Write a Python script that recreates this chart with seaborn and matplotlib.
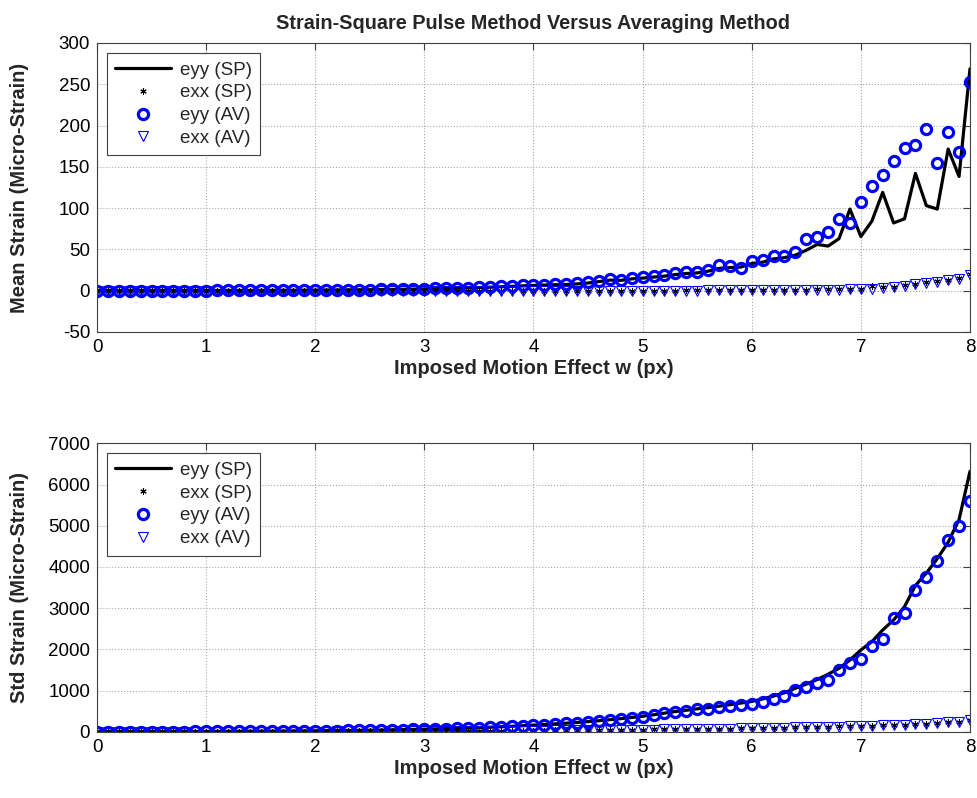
## Strain-square pulse method versus averaging method
## Mean and std strain against imposed motion effect

import numpy as np
import pandas as pd
import matplotlib
matplotlib.use("Agg")
import matplotlib.pyplot as plt
import seaborn as sns

##########################################################################
## 1. Data
##########################################################################

w_px = np.arange(0, 81) / 10.0  # sample grid 0.0 ... 8.0 px

mean_eyy_sp = [
    0.0, 0.0, 0.0, 0.0, 0.1, 0.1, 0.1, 0.1, 0.1, 0.2,
    0.2, 0.2, 0.3, 0.3, 0.3, 0.4, 0.4, 0.5, 0.5, 0.6,
    0.7, 0.8, 0.9, 1.0, 1.1, 1.2, 1.4, 1.5, 1.7, 1.9,
    2.2, 2.4, 2.7, 3.0, 3.4, 3.8, 4.2, 4.7, 5.2, 5.8,
    6.4, 6.8, 7.2, 7.5, 8.2, 9.3, 11.0, 12.8, 12.5, 14.3,
    15.2, 16.5, 17.6, 19.5, 20.8, 21.5, 23.6, 27.0, 28.0, 28.6,
    33.0, 34.5, 38.5, 40.0, 43.0, 49.0, 56.0, 54.0, 63.0, 98.8,
    65.5, 84.0, 119.0, 82.0, 87.0, 142.0, 103.0, 98.8, 171.5, 138.3,
    268.6,
]
mean_exx_sp = [
    0.0, 0.0, 0.0, 0.0, 0.0, 0.0, 0.0, 0.0, 0.0, 0.0,
    0.0, 0.0, 0.0, 0.0, 0.0, 0.0, 0.0, 0.0, 0.0, 0.0,
    0.0, 0.0, 0.0, 0.0, 0.0, 0.0, 0.0, 0.0, 0.0, 0.0,
    0.0, 0.0, 0.0, 0.0, 0.0, 0.0, 0.0, 0.0, 0.1, 0.1,
    0.1, 0.1, 0.1, 0.1, 0.1, 0.1, 0.1, 0.1, 0.1, 0.1,
    0.1, 0.1, 0.2, 0.2, 0.3, 0.3, 0.4, 0.4, 0.5, 0.6,
    0.7, 0.8, 0.9, 1.0, 1.2, 1.3, 1.5, 1.7, 2.0, 2.2,
    2.5, 5.5, 4.5, 5.0, 6.5, 8.5, 10.0, 11.5, 13.5, 15.5,
    20.5,
]
mean_eyy_av = [
    0.0, 0.0, 0.0, 0.0, 0.1, 0.1, 0.1, 0.1, 0.2, 0.2,
    0.2, 0.3, 0.3, 0.3, 0.4, 0.4, 0.5, 0.5, 0.6, 0.7,
    0.8, 0.9, 1.0, 1.1, 1.2, 1.4, 1.5, 1.7, 1.9, 2.1,
    2.4, 2.7, 3.0, 3.3, 3.7, 4.1, 4.6, 5.1, 5.7, 6.3,
    7.0, 7.4, 7.8, 8.1, 8.9, 10.1, 12.1, 14.2, 13.3, 15.4,
    16.2, 17.8, 18.6, 21.0, 22.2, 22.2, 25.1, 31.1, 29.9, 27.9,
    36.0, 37.2, 42.1, 42.1, 47.3, 62.3, 65.5, 71.2, 86.6, 81.7,
    106.8, 127.0, 140.4, 157.4, 172.3, 176.0, 196.2, 154.9, 192.5, 168.3,
    252.8,
]
mean_exx_av = [
    0.0, 0.0, 0.0, 0.0, 0.0, 0.0, 0.0, 0.0, 0.0, 0.0,
    0.0, 0.0, 0.0, 0.0, 0.0, 0.0, 0.0, 0.0, 0.0, 0.0,
    0.0, 0.0, 0.0, 0.0, 0.0, 0.0, 0.0, 0.0, 0.0, 0.0,
    0.0, 0.0, 0.0, 0.0, 0.0, 0.0, 0.0, 0.0, 0.0, 0.0,
    0.0, 0.0, 0.0, 0.0, 0.0, 0.0, 0.0, 0.0, 0.1, 0.1,
    0.1, 0.1, 0.1, 0.1, 0.2, 0.2, 0.3, 0.3, 0.4, 0.5,
    0.6, 0.7, 0.8, 0.9, 1.0, 1.1, 1.2, 1.3, 1.4, 1.5,
    1.5, 2.5, 3.5, 4.5, 5.5, 7.5, 9.0, 10.5, 12.5, 14.5,
    19.5,
]

std_eyy_sp = [
    5, 6, 6, 7, 7, 8, 8, 9, 10, 11,
    12, 13, 14, 15, 16, 18, 19, 21, 23, 25,
    27, 29, 32, 35, 38, 41, 45, 50, 55, 61,
    68, 74, 80, 87, 95, 104, 114, 125, 137, 150,
    165, 180, 196, 212, 230, 250, 272, 296, 322, 350,
    380, 415, 455, 495, 525, 560, 590, 625, 660, 700,
    740, 800, 870, 950, 1060, 1160, 1270, 1400, 1542, 1744,
    1986, 2188, 2471, 2714, 3037, 3550, 3850, 4200, 4600, 5150,
    6320,
]
std_exx_sp = [
    2, 2, 2, 3, 3, 3, 3, 4, 4, 4,
    5, 5, 5, 6, 6, 7, 7, 8, 8, 9,
    9, 10, 11, 11, 12, 13, 14, 15, 16, 17,
    18, 19, 20, 22, 23, 24, 26, 27, 29, 31,
    32, 34, 36, 38, 40, 42, 45, 47, 50, 53,
    56, 59, 62, 65, 68, 71, 75, 78, 82, 86,
    90, 94, 99, 104, 109, 114, 120, 126, 132, 139,
    146, 154, 162, 171, 180, 190, 201, 214, 230, 250,
    290,
]
std_eyy_av = [
    5, 6, 6, 7, 7, 8, 8, 9, 10, 11,
    12, 13, 14, 15, 16, 18, 19, 21, 23, 25,
    27, 29, 32, 35, 38, 41, 45, 50, 55, 61,
    68, 74, 80, 87, 95, 104, 114, 125, 137, 150,
    165, 180, 196, 210, 227, 245, 265, 290, 315, 340,
    369, 410, 451, 490, 507, 548, 555, 596, 628, 652,
    677, 725, 791, 871, 1016, 1096, 1179, 1259, 1493, 1664,
    1776, 2083, 2245, 2755, 2876, 3430, 3749, 4135, 4654, 4994,
    5600,
]
std_exx_av = [
    2, 2, 2, 3, 3, 3, 3, 4, 4, 4,
    5, 5, 5, 6, 6, 7, 7, 8, 8, 9,
    9, 10, 11, 11, 12, 13, 14, 15, 16, 17,
    18, 19, 20, 21, 23, 24, 25, 27, 29, 30,
    32, 34, 36, 37, 39, 42, 44, 47, 49, 52,
    55, 58, 61, 64, 67, 70, 74, 77, 81, 85,
    89, 93, 98, 103, 108, 113, 119, 125, 131, 138,
    145, 153, 161, 170, 179, 189, 200, 213, 229, 249,
    288,
]

series_labels = ["eyy (SP)", "exx (SP)", "eyy (AV)", "exx (AV)"]

mean_df = pd.DataFrame({
    "w": w_px,
    "eyy_sp": mean_eyy_sp, "exx_sp": mean_exx_sp,
    "eyy_av": mean_eyy_av, "exx_av": mean_exx_av,
})
std_df = pd.DataFrame({
    "w": w_px,
    "eyy_sp": std_eyy_sp, "exx_sp": std_exx_sp,
    "eyy_av": std_eyy_av, "exx_av": std_exx_av,
})

##########################################################################
## 2. Style
##########################################################################

sns.set_style("white")
plt.rcParams["font.family"] = ["Liberation Sans", "DejaVu Sans"]
plt.rcParams["font.size"] = 13.5
plt.rcParams["axes.unicode_minus"] = False
plt.rcParams["xtick.direction"] = "in"
plt.rcParams["ytick.direction"] = "in"

BLUE = "#0000ff"
ASTERISK = (6, 2, 0)  # matlab-like '*' marker

##########################################################################
## 3. Plot helper
##########################################################################

def strain_panel(ax, data, ylabel, ylim, yticks):
    sns.lineplot(data=data, x="w", y="eyy_sp", ax=ax, color="black",
                 linewidth=2.3, label=series_labels[0])
    sns.lineplot(data=data, x="w", y="exx_sp", ax=ax, color="black",
                 linestyle="none", marker=ASTERISK, markersize=4.5,
                 markeredgecolor="black", markeredgewidth=0.8,
                 label=series_labels[1])
    sns.lineplot(data=data, x="w", y="eyy_av", ax=ax, color=BLUE,
                 linestyle="none", marker="o", markersize=7.3,
                 markerfacecolor="none", markeredgecolor=BLUE,
                 markeredgewidth=2.3, label=series_labels[2])
    sns.lineplot(data=data, x="w", y="exx_av", ax=ax, color=BLUE,
                 linestyle="none", marker="v", markersize=7.5,
                 markerfacecolor="none", markeredgecolor=BLUE,
                 markeredgewidth=0.8, label=series_labels[3])

    ax.set_xlim(0, 8)
    ax.set_ylim(*ylim)
    ax.set_xticks(range(0, 9))
    ax.set_yticks(yticks)
    ax.grid(True, linestyle=":", color="#a8a8a8", linewidth=0.8)
    ax.set_axisbelow(True)
    ax.tick_params(axis="both", length=5, width=0.8, colors="#404040",
                   labelcolor="black", labelsize=13.5, top=True, right=True, pad=5)
    for spine in ax.spines.values():
        spine.set_visible(True)
        spine.set_color("#404040")
        spine.set_linewidth(0.8)

    ax.set_xlabel("Imposed Motion Effect w (px)", fontweight="bold",
                  fontsize=14.5, labelpad=2)
    ax.set_ylabel(ylabel, fontweight="bold", fontsize=14.5)
    ax.yaxis.set_label_coords(-0.078, 0.5)

    leg = ax.legend(loc="upper left", bbox_to_anchor=(0.011, 0.965),
                    borderaxespad=0, frameon=True, fancybox=False, framealpha=1,
                    edgecolor="#404040", handlelength=3.0, labelspacing=0.3,
                    borderpad=0.45, handletextpad=0.45, fontsize=13.5)
    leg.get_frame().set_linewidth(0.8)

##########################################################################
## 4. Figure
##########################################################################

fig = plt.figure(figsize=(9.78, 7.98), dpi=100)
ax_mean = fig.add_axes([0.0992, 0.5840, 0.8926, 0.3622])
ax_std = fig.add_axes([0.0992, 0.0828, 0.8926, 0.3617])

strain_panel(ax_mean, mean_df, "Mean Strain (Micro-Strain)",
             (-50, 300), list(range(-50, 301, 50)))
strain_panel(ax_std, std_df, "Std Strain (Micro-Strain)",
             (0, 7000), list(range(0, 7001, 1000)))

ax_mean.set_title("Strain-Square Pulse Method Versus Averaging Method",
                  fontweight="bold", fontsize=14.3, pad=10)

fig.savefig("out.png", dpi=100, facecolor="white")
plt.close(fig)
